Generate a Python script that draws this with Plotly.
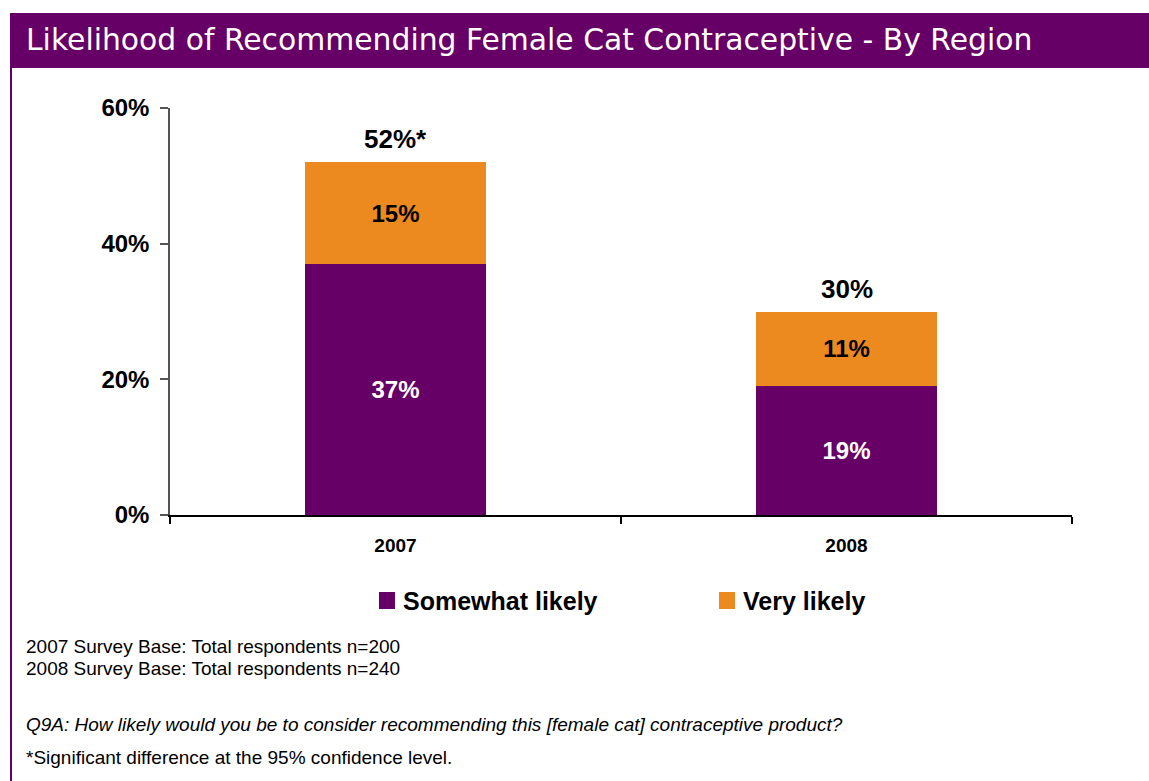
import plotly.graph_objects as go

# Survey data
years = ["2007", "2008"]
somewhat_likely = [37, 19]
very_likely = [15, 11]
total_labels = ["52%*", "30%"]
series_names = ["Somewhat likely", "Very likely"]
y_ticks = [0, 20, 40, 60]
y_tick_text = [f"{v}%" for v in y_ticks]

footnotes = [
    "2007 Survey Base: Total respondents n=200",
    "2008 Survey Base: Total respondents n=240",
]
question = "Q9A: How likely would you be to consider recommending this [female cat] contraceptive product?"
significance = "*Significant difference at the 95% confidence level."
title_text = "Likelihood of Recommending Female Cat Contraceptive - By Region"

PURPLE = "#660066"
ORANGE = "#ED8A1F"

# Figure geometry (pixels)
FIG_W, FIG_H = 1149, 781
PLOT_L, PLOT_R, PLOT_T, PLOT_B = 170, 1072, 108, 515
PW, PH = PLOT_R - PLOT_L, PLOT_B - PLOT_T


def px(x):
    return (x - PLOT_L) / PW


def py(y):
    return (PLOT_B - y) / PH


fig = go.Figure()
fig.add_trace(go.Bar(
    x=years, y=somewhat_likely, name=series_names[0],
    marker=dict(color=PURPLE, line=dict(width=0)),
    text=[f"{v}%" for v in somewhat_likely],
    textposition="inside", insidetextanchor="middle",
    textfont=dict(family="Liberation Sans", size=24, color="white", weight="bold"),
    width=0.4, showlegend=False,
))
fig.add_trace(go.Bar(
    x=years, y=very_likely, name=series_names[1],
    marker=dict(color=ORANGE, line=dict(width=0)),
    text=[f"{v}%" for v in very_likely],
    textposition="inside", insidetextanchor="middle",
    textfont=dict(family="Liberation Sans", size=24, color="black", weight="bold"),
    width=0.4, showlegend=False,
))

# Totals above each stack (x given as category index)
for i, (a, b, lab) in enumerate(zip(somewhat_likely, very_likely, total_labels)):
    fig.add_annotation(
        x=i, y=a + b, text=lab, showarrow=False,
        xanchor="center", yanchor="bottom", yshift=6,
        font=dict(family="Liberation Sans", size=26, color="black", weight="bold"),
    )

shapes = []
# Header band and left frame line
shapes.append(dict(type="rect", xref="paper", yref="paper",
                   x0=px(10), x1=px(1149), y0=py(68), y1=py(13),
                   fillcolor=PURPLE, line=dict(width=0), layer="below"))
shapes.append(dict(type="rect", xref="paper", yref="paper",
                   x0=px(10), x1=px(12), y0=py(781), y1=py(68),
                   fillcolor=PURPLE, line=dict(width=0), layer="below"))

# Legend swatches and labels
legend_items = [(379, series_names[0], PURPLE), (719, series_names[1], ORANGE)]
for lx, name, col in legend_items:
    shapes.append(dict(type="rect", xref="paper", yref="paper",
                       x0=px(lx), x1=px(lx + 16), y0=py(609), y1=py(592),
                       fillcolor=col, line=dict(width=0)))
    fig.add_annotation(
        xref="paper", yref="paper", x=px(lx + 22), y=py(601),
        text=name, showarrow=False, xanchor="left", yanchor="middle",
        font=dict(family="Liberation Sans", size=25, color="black", weight="bold"),
    )

fig.update_layout(shapes=shapes)

# Title
fig.add_annotation(
    xref="paper", yref="paper", x=px(24), y=py(40),
    text=title_text, showarrow=False, xanchor="left", yanchor="middle",
    font=dict(family="DejaVu Sans", size=29.8, color="white"),
)

# Footnotes
note_font = dict(family="Liberation Sans", size=19, color="black")
for txt, yy in zip(footnotes, [646, 668]):
    fig.add_annotation(xref="paper", yref="paper", x=px(24), y=py(yy), text=txt,
                       showarrow=False, xanchor="left", yanchor="middle", font=note_font)
fig.add_annotation(xref="paper", yref="paper", x=px(24), y=py(724), text=f"<i>{question}</i>",
                   showarrow=False, xanchor="left", yanchor="middle", font=note_font)
fig.add_annotation(xref="paper", yref="paper", x=px(24), y=py(757), text=significance,
                   showarrow=False, xanchor="left", yanchor="middle", font=note_font)

fig.update_layout(
    width=FIG_W, height=FIG_H,
    margin=dict(l=PLOT_L, r=FIG_W - PLOT_R, t=PLOT_T, b=FIG_H - PLOT_B, pad=0),
    barmode="stack",
    paper_bgcolor="white", plot_bgcolor="white",
    showlegend=False,
)
fig.update_xaxes(
    type="category", range=[-0.5, len(years) - 0.5],
    showline=True, linecolor="black", linewidth=1.5,
    ticks="outside", tickson="boundaries", ticklen=7, tickcolor="black", tickwidth=1.5,
    tickfont=dict(family="Liberation Sans", size=19, color="black", weight="bold"),
    ticklabelstandoff=12, tickangle=0, showgrid=False, zeroline=False,
)
fig.update_yaxes(
    range=[0, 60], tickvals=y_ticks, ticktext=y_tick_text,
    showline=True, linecolor="#555555", linewidth=1.5,
    ticks="outside", ticklen=8, tickcolor="#555555", tickwidth=1.5,
    tickfont=dict(family="Liberation Sans", size=24, color="black", weight="bold"),
    ticklabelstandoff=6, showgrid=False, zeroline=False,
)

fig.write_html("out.html")
